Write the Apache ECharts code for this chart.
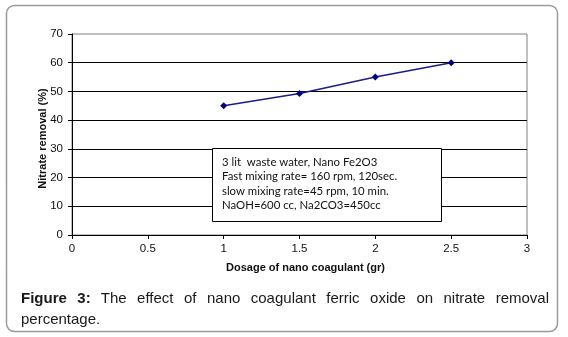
<!DOCTYPE html>
<html>
<head>
<meta charset="utf-8">
<script src="https://cdn.jsdelivr.net/npm/echarts@6/dist/echarts.min.js"></script>
<style>
  html, body { margin: 0; padding: 0; background: #fff; }
  #wrap { position: relative; width: 568px; height: 337px; }
  #chart { position: absolute; left: 0; top: 0; width: 568px; height: 337px; }
  .caption {
    position: absolute;
    left: 21px;
    top: 287px;
    width: 528px;
    font-family: "Liberation Sans", Arial, sans-serif;
    font-size: 15px;
    line-height: 21px;
    color: #1a1a1a;
    text-align: justify;
  }
</style>
</head>
<body>
<div id="wrap">
  <div id="chart"></div>
  <div class="caption"><b>Figure 3:</b> The effect of nano coagulant ferric oxide on nitrate removal percentage.</div>
</div>
<script>
// data
const doses = [1, 1.5, 2, 2.5]
const removal = [45, 49.3, 55, 60]
const noteLines = [
  '3 lit  waste water, Nano Fe2O3',
  'Fast mixing rate= 160 rpm, 120sec.',
  'slow mixing rate=45 rpm, 10 min.',
  'NaOH=600 cc, Na2CO3=450cc'
]

const chart = echarts.init(document.getElementById('chart'))

const option = {
  animation: false,
  backgroundColor: '#fff',
  grid: {
    left: 72,
    right: 41,
    top: 34,
    bottom: 102,
    show: true,
    borderColor: '#808080',
    borderWidth: 1
  },
  xAxis: {
    type: 'value',
    min: 0,
    max: 3,
    interval: 0.5,
    name: 'Dosage of nano coagulant (gr)',
    nameLocation: 'middle',
    nameGap: 27,
    nameMoveOverlap: false,
    nameTextStyle: {
      fontFamily: 'Liberation Sans',
      fontWeight: 'bold',
      fontSize: 11,
      color: '#111',
      padding: [0, 0, 0, 12]
    },
    axisLine: { lineStyle: { color: '#000', width: 1 } },
    axisTick: { show: true, length: 4, lineStyle: { color: '#000' } },
    axisLabel: {
      fontFamily: 'Liberation Sans',
      fontSize: 11.5,
      color: '#111',
      margin: 8
    },
    splitLine: { show: false }
  },
  yAxis: {
    type: 'value',
    min: 0,
    max: 70,
    interval: 10,
    name: 'Nitrate removal (%)',
    nameLocation: 'middle',
    nameGap: 24,
    nameMoveOverlap: false,
    nameTextStyle: {
      fontFamily: 'Liberation Sans',
      fontWeight: 'bold',
      fontSize: 11,
      color: '#111',
      padding: [0, 8, 0, 0]
    },
    axisLine: { show: true, lineStyle: { color: '#000', width: 1 } },
    axisTick: { show: true, length: 4, lineStyle: { color: '#000' } },
    axisLabel: {
      fontFamily: 'Liberation Sans',
      fontSize: 11.5,
      color: '#111',
      margin: 9
    },
    splitLine: {
      show: true,
      showMinLine: false,
      showMaxLine: false,
      lineStyle: { color: '#000', width: 1 }
    }
  },
  series: [
    {
      type: 'line',
      data: doses.map((d, i) => [d, removal[i]]),
      symbol: 'diamond',
      symbolSize: 7,
      itemStyle: { color: '#000080' },
      lineStyle: { color: '#1c1c85', width: 1.5 },
      z: 5
    }
  ],
  graphic: [
    {
      type: 'rect',
      shape: { x: 6.5, y: 5.5, width: 551, height: 326, r: 8 },
      style: { fill: 'none', stroke: '#9a9a9a', lineWidth: 1.5 },
      z: 0,
      silent: true
    },
    {
      type: 'rect',
      shape: { x: 212.5, y: 148.5, width: 229, height: 73 },
      style: { fill: '#fff', stroke: '#000', lineWidth: 1 },
      z: 10
    },
    {
      type: 'text',
      left: 222,
      top: 155,
      z: 11,
      style: {
        text: noteLines.join('\n'),
        font: '11.4px Lato',
        lineHeight: 14.5,
        fill: '#111'
      }
    }
  ]
}

chart.setOption(option)
</script>
</body>
</html>
